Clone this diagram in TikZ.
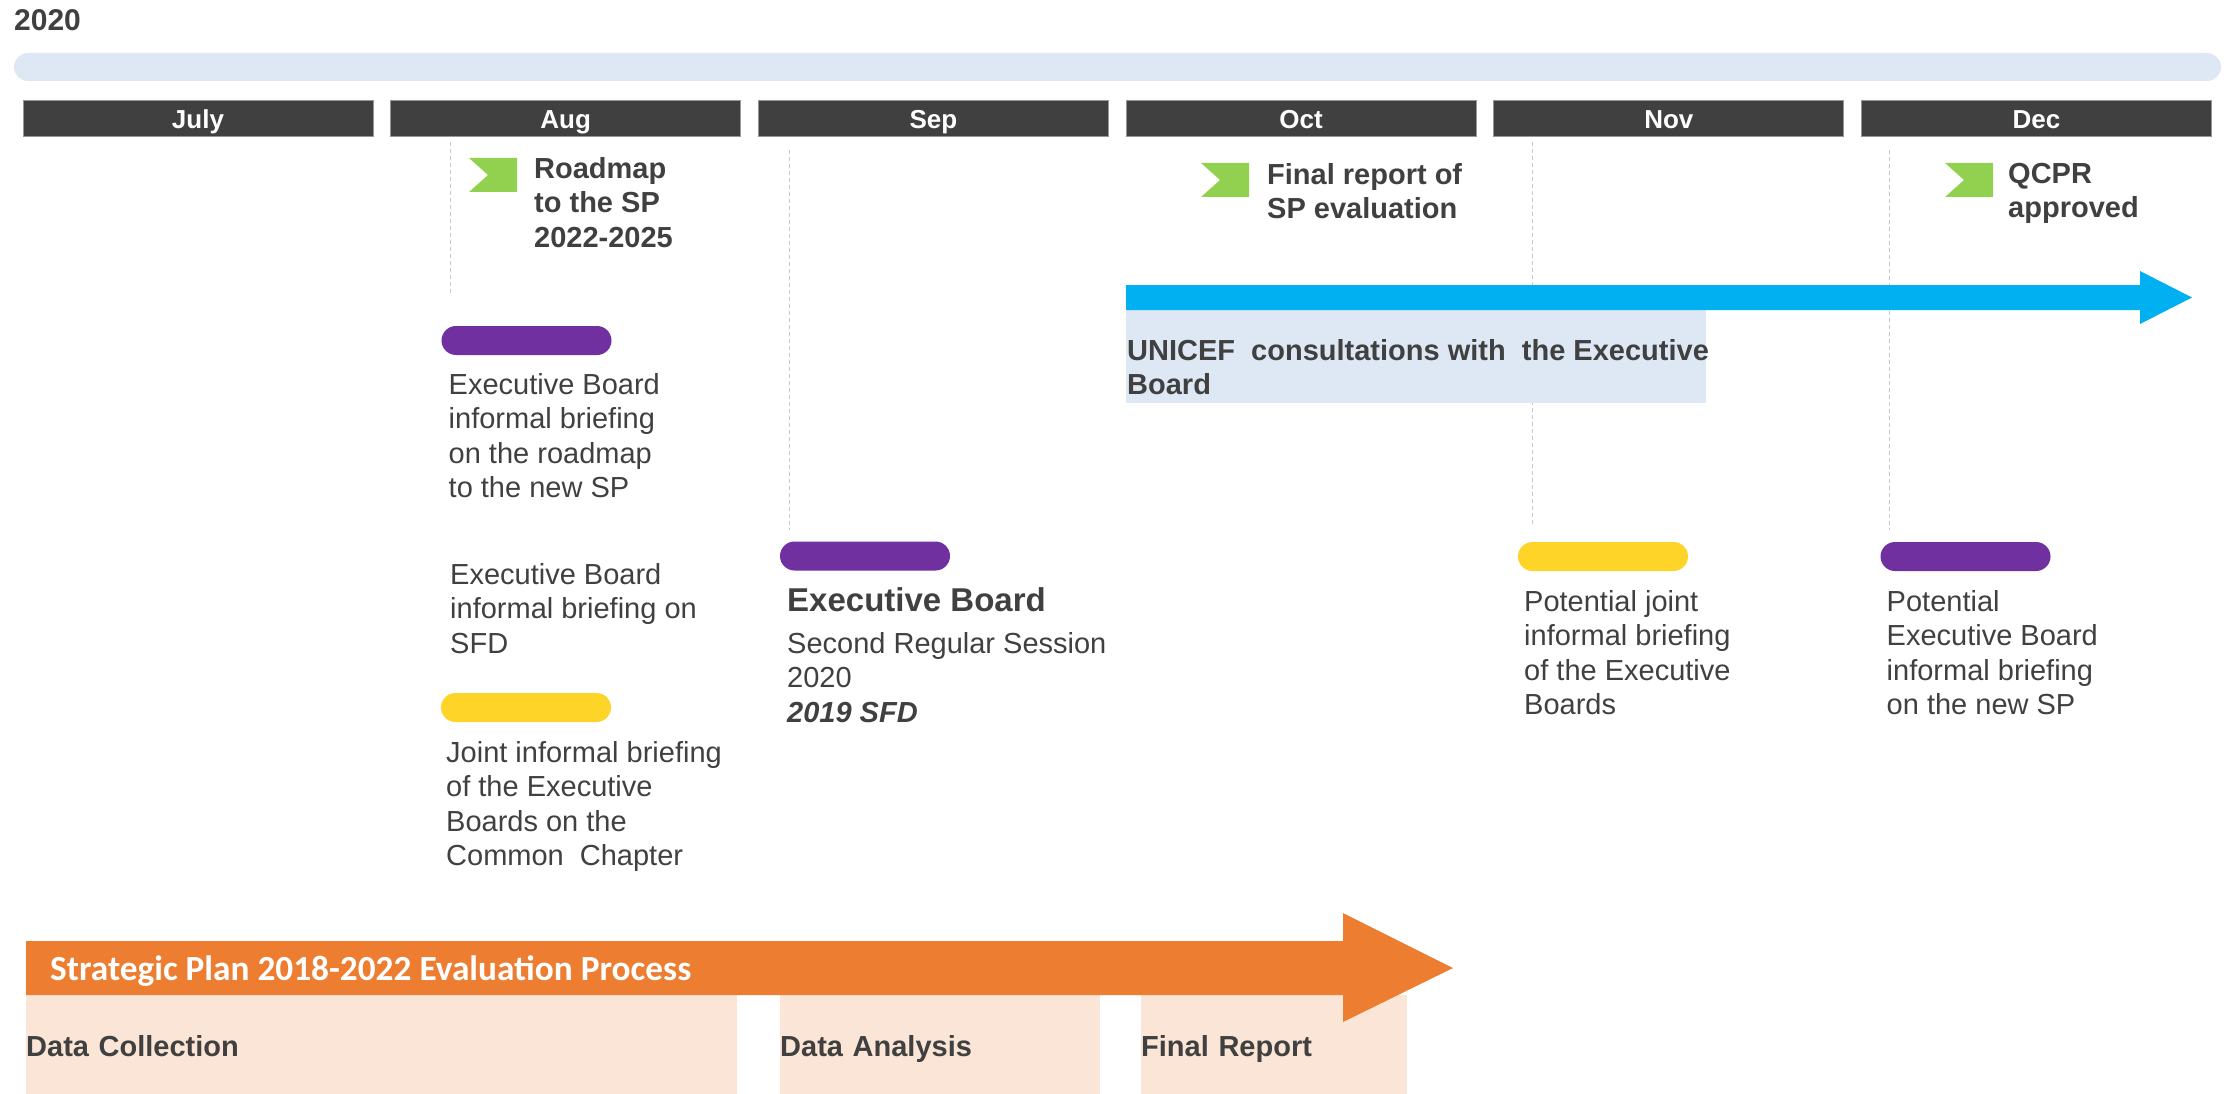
\documentclass[tikz,border=0pt]{standalone}
\usepackage{fontspec}
\setmainfont{Liberation Sans}
\newfontfamily\calibrifont{Carlito}
\usetikzlibrary{positioning,shapes.misc}
\definecolor{inkgray}{HTML}{404040}
\definecolor{bandblue}{HTML}{DEE8F4}
\definecolor{flaggreen}{HTML}{92D050}
\definecolor{ebpurple}{HTML}{7030A0}
\definecolor{jointyellow}{HTML}{FFD428}
\definecolor{arrowblue}{HTML}{00B0F0}
\definecolor{evalorange}{HTML}{ED7D31}
\definecolor{peach}{HTML}{FBE5D6}
\definecolor{guidegray}{HTML}{C8C8C8}
\tikzset{
  monthbar/.style  = {shape=rectangle, fill=inkgray, text=white,
                      draw=inkgray!55!white, line width=1pt,
                      minimum width=350pt, minimum height=36pt, inner sep=0pt,
                      font=\fontsize{26}{30}\selectfont\bfseries,
                      text height=22pt, text depth=3.4pt},
  pill/.style      = {shape=rounded rectangle, minimum width=170pt,
                      minimum height=29pt, inner sep=0pt},
  infotext/.style  = {anchor=north west, inner sep=0pt, align=left,
                      text=inkgray, font=\fontsize{29}{34.5}\selectfont},
  keytext/.style   = {infotext, font=\fontsize{29}{34.5}\selectfont\bfseries},
  phasebox/.style  = {shape=rectangle, fill=peach, anchor=north west,
                      minimum height=99pt, inner sep=0pt, align=left,
                      text=inkgray, font=\fontsize{29}{34}\selectfont\bfseries,
                      text height=30pt, text depth=6pt},
  guide/.style     = {draw=guidegray, line width=1pt, dash pattern=on 4pt off 3pt}
}

\begin{document}
\begin{tikzpicture} [x=1pt, y=-1pt]
\useasboundingbox (0,0) rectangle (2232,1094);

% year and months
\node [infotext, font=\fontsize{30}{34}\selectfont\bfseries] (year) at (14,9) {2020};
\node [pill, fill=bandblue, minimum width=2207pt, minimum height=28pt] (band) at (1117.5,67) {};
\foreach \m [count=\i from 0] in {July,Aug,Sep,Oct,Nov,Dec}
  \node [monthbar] (m\m) at (198+367.7*\i,119) {\m};
\foreach \gx/\ga/\gb in {450/142/296, 789/150/530, 1532/142/527, 1889/150/530}
  \draw [guide] (\gx,\ga) -- (\gx,\gb);

% milestones
\foreach \fx/\fy in {469/158, 1201/163, 1945/163}
  \fill [flaggreen] (\fx,\fy) -- ++(48,0) -- ++(0,34) -- ++(-48,0) -- ++(19,-17) -- cycle;
\node [keytext] (roadmap) at (534,157) {Roadmap\\to the SP\\2022-2025};
\node [keytext] (finalrep) at (1267,163) {Final report of\\SP evaluation};
\node [keytext] (qcpr) at (2008,163) {QCPR\\approved};

% consultations
\fill [bandblue] (1126,310) rectangle (1706,403);
\fill [arrowblue] (1126,285) -- (2140,285) -- (2140,271) -- (2192,297.5)
  -- (2140,324) -- (2140,310) -- (1126,310) -- cycle;
\node [keytext] (consult) at (1127,339) {UNICEF~ consultations with~ the Executive\\Board};

% briefings
\node [pill, fill=ebpurple] (pillRoad) at (526.5,340.5) {};
\node [infotext] (txtRoad) at ([xshift=-7.5pt, yshift=-18pt]pillRoad.south west)
  {Executive Board\\informal briefing\\on the roadmap\\to the new SP};
\node [infotext] (txtSFD) at (450,563) {Executive Board\\informal briefing on\\SFD};
\node [pill, fill=jointyellow] (pillJoint) at (526,707.5) {};
\node [infotext] (txtJoint) at ([xshift=-9.5pt, yshift=-19pt]pillJoint.south west)
  {Joint informal briefing\\of the Executive\\Boards on the\\Common~ Chapter};
\node [pill, fill=ebpurple] (pillSep) at (865,556) {};
\node [infotext] (txtSep) at ([xshift=-7.5pt, yshift=-17pt]pillSep.south west)
  {{\fontsize{33}{38}\selectfont\bfseries Executive Board}\\[7pt]
   Second Regular Session\\2020\\{\bfseries\itshape 2019 SFD}};
\node [pill, fill=jointyellow] (pillNov) at (1603,556.5) {};
\node [infotext] (txtNov) at ([xshift=-8.5pt, yshift=-19pt]pillNov.south west)
  {Potential joint\\informal briefing\\of the Executive\\Boards};
\node [pill, fill=ebpurple] (pillDec) at (1965.5,556.5) {};
\node [infotext] (txtDec) at ([xshift=-8.5pt, yshift=-19pt]pillDec.south west)
  {Potential\\Executive Board\\informal briefing\\on the new SP};

% evaluation process
\node [phasebox, text width=711pt] (phCollect) at (26,995) {Data Collection};
\node [phasebox, text width=320pt] (phAnalysis) at (780,995) {Data Analysis};
\node [phasebox, text width=266pt] (phReport) at (1141,995) {Final Report};
\fill [evalorange] (26,941) -- (1343,941) -- (1343,913) -- (1453,968)
  -- (1343,1022) -- (1343,995) -- (26,995) -- cycle;
\node [anchor=base west, inner sep=0pt, text=white,
       font=\fontsize{35.3}{40}\calibrifont\bfseries] (spEval) at (50,980)
  {Strategic Plan 2018-2022 Evaluation Process};
\end{tikzpicture}
\end{document}
